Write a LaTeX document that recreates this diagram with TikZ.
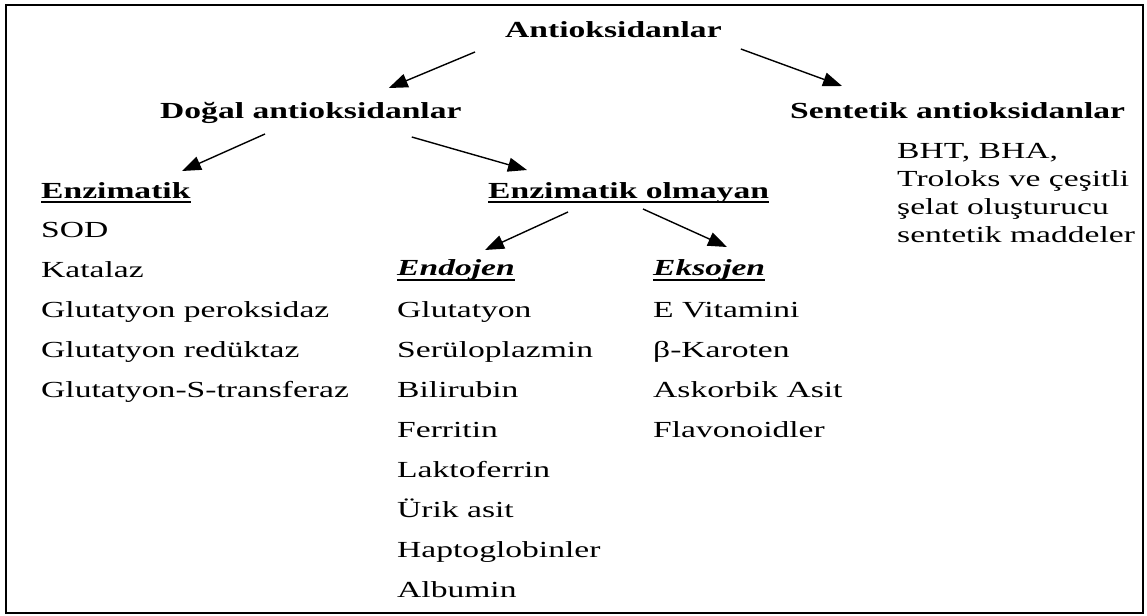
\documentclass[tikz,border=0pt]{standalone}
\usepackage{fontspec}
\setmainfont[FakeStretch=1.46]{Liberation Serif}
\usepackage{tikz}
\usetikzlibrary{positioning,arrows.meta,calc}
\tikzstyle{branch}=[-{Triangle[length=19pt,width=14pt]}, line width=1.4pt]
\tikzstyle{head}=[inner sep=0pt, anchor=base west, font=\fontsize{23}{28}\selectfont\bfseries]
\tikzstyle{item}=[inner sep=0pt, anchor=base west, font=\fontsize{23}{28}\selectfont]
\tikzstyle{uline}=[line width=2.2pt]

\begin{document}
\begin{tikzpicture}[x=1pt,y=-1pt]
	  \useasboundingbox (0,0) rectangle (1147,615);
	  % frame
	  \draw[line width=2pt] (6,5) rectangle (1143,613);

	  % headings
	  \node[head] (root) at (505,38) {Antioksidanlar};
	  \node[head] (dogal) at (160,118) {Doğal antioksidanlar};
	  \node[head] (sentetik) at (790,118) {Sentetik antioksidanlar};
	  \node[item, anchor=north west, align=left] (sentlist) at (897,143)
	    {BHT, BHA,\\ Troloks ve çeşitli\\ şelat oluşturucu\\ sentetik maddeler};
	  \node[head] (enz) at (41,198) {Enzimatik};
	  \node[head] (nonenz) at (488,198) {Enzimatik olmayan};
	  \node[head] (endo) at (397,275) {\itshape Endojen};
	  \node[head] (ekso) at (653,275) {\itshape Eksojen};

	  % underlines
	  \foreach \n/\d in {enz/4, nonenz/4, endo/5, ekso/5}
	    \draw[uline] ([yshift=-\d pt]\n.base west) -- ([yshift=-\d pt]\n.base east);

	  % lists
	  \foreach \txt [count=\i] in {SOD, Katalaz, Glutatyon peroksidaz,
	      Glutatyon redüktaz, Glutatyon-S-transferaz}
	    \node[item] (enz\i) at (41,{197+40*\i}) {\txt};
	  \foreach \txt [count=\i] in {Glutatyon, Serüloplazmin, Bilirubin, Ferritin,
	      Laktoferrin, Ürik asit, Haptoglobinler, Albumin}
	    \node[item] (endo\i) at (397,{277+40*\i}) {\txt};
	  \foreach \txt [count=\i] in {E Vitamini, β-Karoten, Askorbik Asit, Flavonoidler}
	    \node[item] (ekso\i) at (653,{277+40*\i}) {\txt};

	  % arrows
	  \draw[branch] ([shift={(-30,14)}]root.base west) -- ([shift={(-73,-30)}]dogal.base east);
	  \draw[branch] ([shift={(19,11)}]root.base east) -- ([shift={(52,-32)}]sentetik.base west);
	  \draw[branch] ([shift={(105,16)}]dogal.base west) -- ([shift={(141,-27)}]enz.base west);
	  \draw[branch] ([shift={(-50,19)}]dogal.base east) -- ([shift={(39,-28)}]nonenz.base west);
	  \draw[branch] ([shift={(80,14)}]nonenz.base west) -- ([shift={(88,-25)}]endo.base west);
	  \draw[branch] ([shift={(155,11)}]nonenz.base west) -- ([shift={(74,-28)}]ekso.base west);
\end{tikzpicture}
\end{document}
